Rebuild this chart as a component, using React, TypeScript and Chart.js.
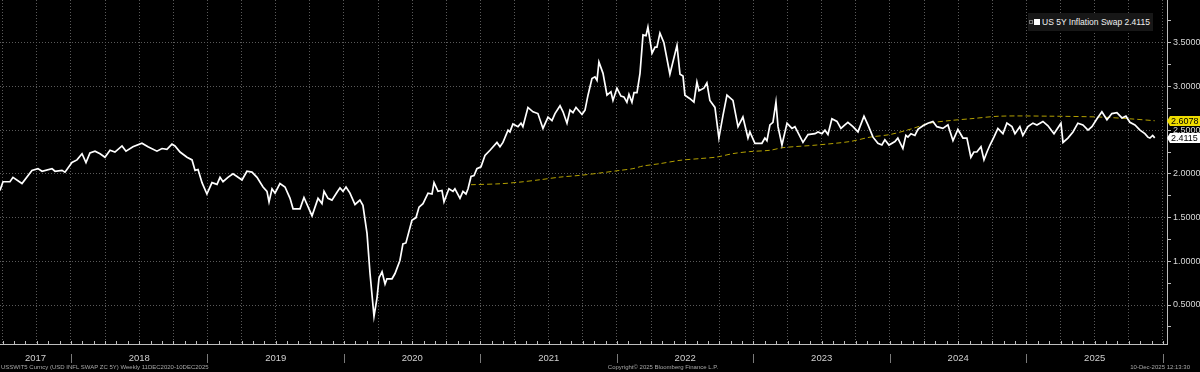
import React, { useEffect, useRef } from 'react';
import { Chart, registerables } from 'chart.js';
Chart.register(...registerables);

// ---- Data (decimal years) ----
const swapDates = [
  2017.480, 2017.502, 2017.553, 2017.575, 2017.641, 2017.714, 2017.758, 2017.788, 2017.861, 2017.883, 2017.934, 2017.956,
  2018.007, 2018.044, 2018.081, 2018.110, 2018.139, 2018.176, 2018.213, 2018.249, 2018.286, 2018.322, 2018.374, 2018.403,
  2018.454, 2018.520, 2018.564, 2018.630, 2018.667, 2018.703, 2018.740, 2018.762, 2018.799, 2018.850, 2018.887, 2018.909,
  2018.931, 2018.960, 2018.996, 2019.033, 2019.070, 2019.092, 2019.114, 2019.150, 2019.187, 2019.216, 2019.253, 2019.289,
  2019.326, 2019.363, 2019.407, 2019.436, 2019.451, 2019.473, 2019.495, 2019.531, 2019.568, 2019.605, 2019.627, 2019.678,
  2019.707, 2019.766, 2019.810, 2019.839, 2019.854, 2019.883, 2019.912, 2019.949, 2019.971, 2019.993, 2020.015, 2020.044,
  2020.081, 2020.117, 2020.139, 2020.169, 2020.191, 2020.220, 2020.242, 2020.257, 2020.279, 2020.301, 2020.315, 2020.352,
  2020.374, 2020.410, 2020.432, 2020.454, 2020.498, 2020.528, 2020.550, 2020.579, 2020.616, 2020.645, 2020.660, 2020.689,
  2020.718, 2020.733, 2020.769, 2020.799, 2020.813, 2020.850, 2020.872, 2020.894, 2020.909, 2020.931, 2020.953, 2020.974,
  2021.004, 2021.033, 2021.070, 2021.121, 2021.143, 2021.165, 2021.202, 2021.216, 2021.238, 2021.275, 2021.297, 2021.311,
  2021.348, 2021.385, 2021.421, 2021.458, 2021.495, 2021.524, 2021.546, 2021.583, 2021.605, 2021.634, 2021.656, 2021.678,
  2021.700, 2021.744, 2021.766, 2021.788, 2021.817, 2021.839, 2021.854, 2021.868, 2021.898, 2021.927, 2021.956, 2021.971,
  2022.000, 2022.029, 2022.051, 2022.073, 2022.088, 2022.110, 2022.125, 2022.147, 2022.169, 2022.191, 2022.213, 2022.227,
  2022.257, 2022.279, 2022.293, 2022.315, 2022.344, 2022.388, 2022.440, 2022.462, 2022.484, 2022.498, 2022.535, 2022.564,
  2022.586, 2022.601, 2022.637, 2022.659, 2022.681, 2022.718, 2022.747, 2022.777, 2022.806, 2022.850, 2022.887, 2022.923,
  2022.960, 2022.974, 2023.011, 2023.062, 2023.084, 2023.099, 2023.121, 2023.143, 2023.165, 2023.180, 2023.209, 2023.246,
  2023.282, 2023.304, 2023.363, 2023.400, 2023.451, 2023.473, 2023.502, 2023.524, 2023.546, 2023.575, 2023.612, 2023.641,
  2023.670, 2023.692, 2023.729, 2023.766, 2023.810, 2023.839, 2023.876, 2023.912, 2023.941, 2023.963, 2023.993, 2024.037,
  2024.058, 2024.095, 2024.117, 2024.132, 2024.154, 2024.183, 2024.205, 2024.242, 2024.278, 2024.315, 2024.344, 2024.388,
  2024.425, 2024.462, 2024.498, 2024.535, 2024.564, 2024.593, 2024.615, 2024.637, 2024.667, 2024.689, 2024.711, 2024.733,
  2024.762, 2024.791, 2024.828, 2024.857, 2024.894, 2024.916, 2024.952, 2024.974, 2025.011, 2025.048, 2025.077, 2025.121,
  2025.158, 2025.202, 2025.253, 2025.268, 2025.304, 2025.341, 2025.377, 2025.414, 2025.451, 2025.480, 2025.517, 2025.553,
  2025.590, 2025.626, 2025.663, 2025.700, 2025.729, 2025.758, 2025.795, 2025.832, 2025.868, 2025.890, 2025.905, 2025.925,
  2025.940,
];
const swapValues = [
  1.81, 1.91, 1.91, 1.96, 1.89, 2.04, 2.06, 2.03, 2.06, 2.03, 2.04, 2.02,
  2.13, 2.16, 2.23, 2.13, 2.24, 2.26, 2.23, 2.19, 2.27, 2.25, 2.32, 2.26,
  2.31, 2.35, 2.31, 2.26, 2.29, 2.28, 2.34, 2.32, 2.25, 2.19, 2.16, 2.04,
  2.05, 1.90, 1.77, 1.90, 1.88, 1.96, 1.91, 1.96, 2.00, 1.97, 1.93, 2.03,
  2.02, 1.96, 1.85, 1.80, 1.68, 1.83, 1.78, 1.89, 1.85, 1.72, 1.60, 1.60,
  1.73, 1.52, 1.72, 1.66, 1.80, 1.72, 1.70, 1.79, 1.84, 1.80, 1.85, 1.78,
  1.65, 1.70, 1.64, 1.32, 0.86, 0.37, 0.58, 0.81, 0.88, 0.74, 0.80, 0.80,
  0.86, 1.01, 1.20, 1.21, 1.47, 1.50, 1.62, 1.66, 1.78, 1.77, 1.90, 1.80,
  1.81, 1.68, 1.83, 1.80, 1.83, 1.72, 1.80, 1.77, 1.83, 1.97, 1.98, 2.06,
  2.08, 2.21, 2.27, 2.36, 2.31, 2.36, 2.50, 2.48, 2.57, 2.54, 2.58, 2.54,
  2.76, 2.71, 2.69, 2.52, 2.65, 2.61, 2.69, 2.78, 2.71, 2.58, 2.73, 2.70,
  2.76, 2.68, 2.73, 2.90, 3.09, 3.11, 3.07, 3.28, 3.15, 2.90, 2.94, 2.84,
  2.98, 2.89, 2.88, 2.82, 2.91, 2.82, 2.93, 2.93, 3.15, 3.59, 3.58, 3.68,
  3.38, 3.45, 3.45, 3.61, 3.50, 3.14, 3.47, 3.14, 3.12, 2.90, 2.86, 2.82,
  3.05, 2.95, 2.98, 3.04, 2.84, 2.76, 2.41, 2.67, 2.90, 2.84, 2.54, 2.65,
  2.41, 2.48, 2.35, 2.35, 2.41, 2.38, 2.56, 2.59, 2.82, 2.54, 2.33, 2.58,
  2.52, 2.54, 2.36, 2.45, 2.46, 2.48, 2.46, 2.50, 2.45, 2.63, 2.60, 2.52,
  2.56, 2.59, 2.54, 2.48, 2.66, 2.56, 2.42, 2.35, 2.33, 2.39, 2.33, 2.37,
  2.41, 2.29, 2.44, 2.42, 2.46, 2.44, 2.51, 2.55, 2.58, 2.60, 2.54, 2.52,
  2.56, 2.38, 2.51, 2.41, 2.41, 2.19, 2.25, 2.25, 2.31, 2.16, 2.25, 2.33,
  2.42, 2.52, 2.46, 2.58, 2.54, 2.46, 2.54, 2.44, 2.54, 2.58, 2.56, 2.60,
  2.55, 2.46, 2.58, 2.36, 2.41, 2.48, 2.58, 2.56, 2.50, 2.54, 2.63, 2.71,
  2.62, 2.69, 2.70, 2.64, 2.66, 2.59, 2.56, 2.50, 2.46, 2.42, 2.41, 2.44,
  2.4115,
];
const maDates = [
  2020.931, 2021.143, 2021.289, 2021.436, 2021.583, 2021.729, 2021.876, 2022.022, 2022.117, 2022.191,
  2022.315, 2022.462, 2022.608, 2022.733, 2022.850, 2022.974, 2023.121, 2023.216, 2023.465, 2023.707,
  2023.854, 2024.000, 2024.147, 2024.293, 2024.440, 2024.586, 2024.806, 2025.172, 2025.539, 2025.758,
  2025.940,
];
const maValues = [
  1.876, 1.887, 1.906, 1.933, 1.963, 1.983, 2.010, 2.040, 2.060, 2.090,
  2.117, 2.155, 2.175, 2.193, 2.232, 2.255, 2.270, 2.300, 2.330, 2.370,
  2.420, 2.450, 2.510, 2.580, 2.610, 2.630, 2.660, 2.660, 2.650, 2.630,
  2.6078,
];
const yearLabels = ['2017', '2018', '2019', '2020', '2021', '2022', '2023', '2024', '2025'];
const xMin = 2017.48;
const xMax = 2026.03;
const yMin = 0.054;
const yMax = 3.989;
const legendLabel = 'US 5Y Inflation Swap';
const footerLeft = 'USSWIT5 Curncy (USD INFL SWAP ZC 5Y) Weekly 11DEC2020-10DEC2025';
const footerCenter = 'Copyright\u00A9 2025 Bloomberg Finance L.P.';
const footerRight = '10-Dec-2025 12:13:30';

const FONT = '"Liberation Sans", Arial, sans-serif';
const GRID = '#5a5a5a';
const AXIS = '#bdbdbd';
const MA_COLOR = '#b3a000';

const isMajor = (v: number) => Math.abs(v * 2 - Math.round(v * 2)) < 1e-9;

const decorPlugin = {
  id: 'decor',
  afterDraw(chart: any) {
    const { ctx, chartArea, scales } = chart;
    const xs = scales.x;
    const ys = scales.y;
    const bottom = chartArea.bottom;
    ctx.save();
    // monthly ticks on the time axis
    ctx.strokeStyle = AXIS;
    ctx.lineWidth = 1;
    for (let m = Math.ceil(xMin * 12); m <= Math.floor(xMax * 12); m++) {
      const px = Math.round(xs.getPixelForValue(m / 12)) + 0.5;
      ctx.beginPath();
      ctx.moveTo(px, bottom - 3);
      ctx.lineTo(px, bottom);
      ctx.stroke();
    }
    // year separators & labels
    ctx.strokeStyle = '#7a7a7a';
    yearLabels.forEach((lab) => {
      const yr = Number(lab);
      const px = Math.round(xs.getPixelForValue(yr + 1)) + 0.5;
      ctx.beginPath();
      ctx.moveTo(px, bottom + 10);
      ctx.lineTo(px, bottom + 19);
      ctx.stroke();
    });
    ctx.fillStyle = '#d0d0d0';
    ctx.font = `9.5px ${FONT}`;
    ctx.textAlign = 'center';
    ctx.textBaseline = 'middle';
    yearLabels.forEach((lab) => {
      const yr = Number(lab);
      const a = Math.max(yr, xMin);
      const b = Math.min(yr + 1, xMax);
      const px = (xs.getPixelForValue(a) + xs.getPixelForValue(b)) / 2;
      ctx.fillText(lab, px, bottom + 14.5);
    });
    // last value tags
    const tags = [
      { v: maValues[maValues.length - 1], bg: '#efdc00' },
      { v: swapValues[swapValues.length - 1], bg: '#ffffff' },
    ];
    ctx.font = `9px ${FONT}`;
    ctx.textAlign = 'left';
    tags.forEach((t) => {
      const py = Math.round(ys.getPixelForValue(t.v));
      const x0 = chartArea.right + 2;
      ctx.fillStyle = t.bg;
      ctx.beginPath();
      ctx.moveTo(x0 - 2, py);
      ctx.lineTo(x0 + 1, py - 5);
      ctx.lineTo(chart.width, py - 5);
      ctx.lineTo(chart.width, py + 5);
      ctx.lineTo(x0 + 1, py + 5);
      ctx.closePath();
      ctx.fill();
      ctx.fillStyle = '#000';
      ctx.fillText(t.v.toFixed(4), x0 + 2, py + 0.5);
    });
    ctx.restore();
  },
};

export default function App() {
  const ref = useRef<HTMLCanvasElement | null>(null);
  useEffect(() => {
    if (!ref.current) return;
    const chart = new Chart(ref.current, {
      type: 'line',
      data: {
        datasets: [
          {
            label: legendLabel,
            data: swapDates.map((d, i) => ({ x: d, y: swapValues[i] })),
            borderColor: '#ffffff',
            borderWidth: 1.7,
            pointRadius: 0,
            tension: 0,
            order: 0,
          },
          {
            label: 'Moving average',
            data: maDates.map((d, i) => ({ x: d, y: maValues[i] })),
            borderColor: MA_COLOR,
            borderWidth: 1,
            borderDash: [5, 3],
            pointRadius: 0,
            tension: 0.3,
            order: 1,
          },
        ],
      },
      options: {
        animation: false,
        responsive: false,
        devicePixelRatio: 1,
        layout: { padding: 0 },
        plugins: { legend: { display: false }, tooltip: { enabled: false } },
        scales: {
          x: {
            type: 'linear',
            min: xMin,
            max: xMax,
            afterBuildTicks: (scale: any) => {
              const t = [];
              for (let q = 2017.5; q <= 2026.0001; q += 0.25) t.push({ value: q });
              scale.ticks = t;
            },
            afterFit: (scale: any) => {
              scale.height = 28;
              scale.paddingLeft = 0;
              scale.paddingRight = 0;
            },
            ticks: { display: false },
            grid: { color: GRID, drawTicks: false, lineWidth: 1 },
            border: { display: true, color: AXIS, width: 1, dash: [1, 2] },
          },
          y: {
            position: 'right',
            min: yMin,
            max: yMax,
            afterBuildTicks: (scale: any) => {
              const t = [];
              for (let v = 0.25; v <= 3.7501; v += 0.25) t.push({ value: v });
              scale.ticks = t;
            },
            afterFit: (scale: any) => {
              scale.width = 33;
              scale.paddingTop = 0;
              scale.paddingBottom = 0;
            },
            ticks: {
              color: '#d8d8d8',
              padding: 2,
              font: { size: 9, family: FONT },
              callback: (v: any) => (isMajor(Number(v)) ? Number(v).toFixed(4) : ''),
            },
            grid: {
              color: (c: any) => (c.tick && isMajor(c.tick.value) ? GRID : 'rgba(0,0,0,0)'),
              tickColor: AXIS,
              tickLength: 4,
              lineWidth: 1,
            },
            border: { display: true, color: AXIS, width: 1, dash: [1, 2] },
          },
        },
      },
      plugins: [decorPlugin],
    } as any);
    return () => chart.destroy();
  }, []);

  const lastSwap = swapValues[swapValues.length - 1];
  const small: React.CSSProperties = {
    position: 'absolute',
    top: 362,
    fontFamily: FONT,
    fontSize: 6,
    color: '#a8a8a8',
    whiteSpace: 'nowrap',
    lineHeight: '10px',
  };
  return (
    <div style={{ position: 'fixed', left: 0, top: 0, width: 1200, height: 372, background: '#000', overflow: 'hidden' }}>
      <canvas ref={ref} width={1200} height={372} style={{ position: 'absolute', left: 0, top: 0, display: 'block' }} />
      <div
        style={{
          position: 'absolute', left: 1028, top: 13, width: 125, height: 18, background: '#171717',
          display: 'flex', alignItems: 'center', fontFamily: FONT, fontSize: 8.5, color: '#f0f0f0', whiteSpace: 'nowrap',
        }}
      >
        <span style={{ display: 'inline-block', width: 2, height: 2, border: '1px solid #777', marginLeft: 1 }} />
        <span style={{ display: 'inline-block', width: 6, height: 6, background: '#fff', marginLeft: 1, marginRight: 2 }} />
        <span>{`${legendLabel} ${lastSwap.toFixed(4)}`}</span>
      </div>
      <div style={{ ...small, left: 1 }}>{footerLeft}</div>
      <div style={{ ...small, left: 663, transform: 'translateX(-50%)' }}>{footerCenter}</div>
      <div style={{ ...small, right: 10 }}>{footerRight}</div>
    </div>
  );
}
